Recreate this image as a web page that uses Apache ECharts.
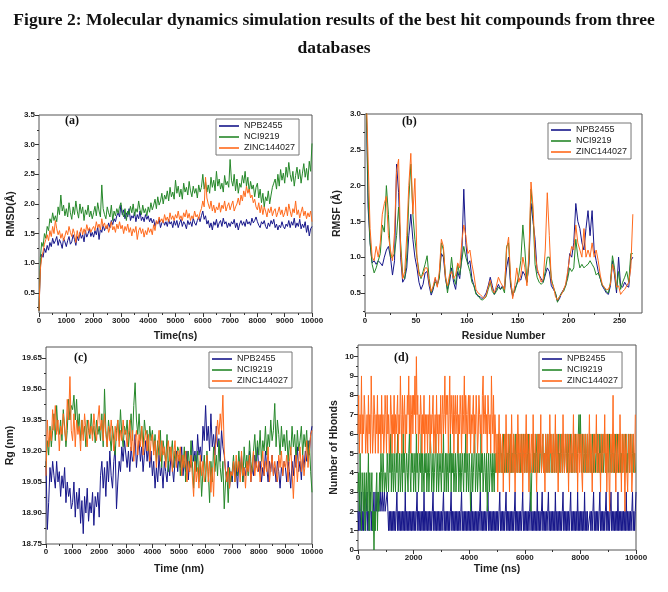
<!DOCTYPE html>
<html><head><meta charset="utf-8">
<script src="https://cdn.jsdelivr.net/npm/echarts@6/dist/echarts.min.js"></script>
<style>html,body{margin:0;padding:0;background:#fff}#c{width:668px;height:592px}</style>
</head><body><div id="c"></div>
<script>
const seriesNames = ['NPB2455', 'NCI9219', 'ZINC144027'];
const seriesColors = ['#16168a', '#26882a', '#ff6a1c'];

// (a) RMSD, sampled every 50 ns from 0 to 10000
const rmsdStep = 50;
const rmsdNPB = [
0.20,0.95,1.15,1.10,1.25,1.18,1.30,1.22,1.35,1.28,1.42,1.33,1.38,1.45,1.30,1.40,1.34,1.25,1.42,1.36,
1.28,1.38,1.45,1.32,1.36,1.48,1.40,1.30,1.45,1.38,1.52,1.42,1.48,1.36,1.55,1.44,1.50,1.58,1.45,1.52,
1.44,1.55,1.48,1.62,1.40,1.58,1.52,1.65,1.55,1.62,1.58,1.68,1.60,1.72,1.65,1.75,1.70,1.80,1.85,1.78,
1.98,1.82,1.90,1.75,1.85,1.78,1.92,1.72,1.80,1.76,1.86,1.70,1.82,1.75,1.88,1.72,1.78,1.70,1.82,1.74,
1.80,1.70,1.76,1.68,1.74,1.62,1.70,1.66,1.75,1.60,1.68,1.72,1.64,1.70,1.62,1.74,1.66,1.70,1.60,1.72,
1.64,1.72,1.60,1.68,1.74,1.62,1.70,1.66,1.58,1.72,1.65,1.70,1.62,1.76,1.68,1.64,1.72,1.78,1.70,1.80,
1.88,1.74,1.80,1.66,1.72,1.60,1.68,1.56,1.70,1.64,1.74,1.60,1.68,1.72,1.62,1.76,1.66,1.70,1.60,1.68,
1.62,1.70,1.66,1.74,1.60,1.68,1.56,1.66,1.72,1.64,1.70,1.62,1.74,1.66,1.70,1.64,1.76,1.68,1.72,1.78,
1.70,1.64,1.60,1.70,1.66,1.72,1.62,1.58,1.68,1.62,1.72,1.66,1.74,1.60,1.66,1.56,1.64,1.60,1.70,1.62,
1.58,1.66,1.62,1.72,1.60,1.70,1.64,1.76,1.60,1.68,1.62,1.74,1.58,1.66,1.60,1.70,1.52,1.64,1.46,1.58,
1.62];
const rmsdNCI = [
0.20,1.10,1.35,1.28,1.50,1.42,1.62,1.55,1.75,1.68,1.85,1.72,1.80,1.70,1.95,1.82,2.15,1.88,1.98,1.80,
1.92,1.78,2.02,1.85,1.74,1.95,1.82,2.05,1.88,1.76,2.00,1.84,1.95,1.72,1.90,1.82,1.98,1.78,1.88,1.75,
1.85,1.96,1.80,2.02,1.88,1.78,2.32,1.92,1.82,1.75,1.95,1.85,1.78,1.98,1.72,1.88,1.80,1.92,1.84,1.95,
2.02,1.85,1.78,1.92,1.72,1.88,1.82,1.96,1.85,2.00,1.80,1.92,1.86,2.05,1.90,1.82,1.98,1.85,1.92,1.80,
1.95,1.86,2.02,1.90,1.98,2.08,1.92,2.12,1.98,2.05,2.18,2.00,2.15,2.08,2.22,2.05,2.28,2.12,2.20,2.08,
2.40,2.18,2.30,2.12,2.25,2.08,2.35,2.20,2.28,2.15,2.38,2.22,2.12,2.30,2.18,2.26,2.10,2.32,2.20,2.28,
2.50,2.25,2.38,2.20,2.32,2.18,2.45,2.28,2.40,2.22,2.55,2.30,2.42,2.25,2.35,2.20,2.48,2.32,2.38,2.28,
2.75,2.40,2.30,2.50,2.22,2.42,2.18,2.35,2.28,2.48,2.35,2.55,2.30,2.45,2.20,2.38,2.25,2.32,2.12,2.28,
2.35,2.10,2.25,2.02,2.18,1.95,2.12,2.05,2.22,2.00,2.15,2.28,2.35,2.42,2.25,2.50,2.30,2.58,2.40,2.52,
2.35,2.62,2.45,2.70,2.50,2.38,2.55,2.30,2.48,2.62,2.42,2.58,2.35,2.52,2.68,2.45,2.60,2.40,2.72,2.55,
3.02];
const rmsdZINC = [
0.20,0.90,1.10,1.20,1.32,1.40,1.48,1.38,1.55,1.45,1.62,1.50,1.72,1.58,1.48,1.55,1.42,1.50,1.38,1.46,
1.55,1.48,1.62,1.52,1.45,1.58,1.50,1.35,1.55,1.42,1.52,1.60,1.48,1.58,1.50,1.65,1.55,1.60,1.52,1.58,
1.62,1.55,1.70,1.60,1.66,1.56,1.75,1.62,1.68,1.58,1.65,1.52,1.60,1.70,1.56,1.62,1.52,1.66,1.58,1.70,
1.58,1.64,1.50,1.62,1.55,1.66,1.52,1.60,1.46,1.58,1.52,1.62,1.40,1.55,1.60,1.50,1.58,1.44,1.55,1.48,
1.60,1.52,1.58,1.48,1.65,1.55,1.72,1.66,1.78,1.70,1.75,1.68,1.82,1.72,1.78,1.70,1.85,1.74,1.80,1.72,
1.82,1.76,1.88,1.74,1.80,1.72,1.85,1.78,1.90,1.76,1.84,1.72,1.80,1.75,1.88,1.78,1.82,1.74,1.86,1.92,
2.05,1.95,2.45,2.10,2.00,1.92,2.05,1.88,1.98,1.85,1.95,1.90,2.02,1.86,1.98,1.92,2.05,1.88,1.96,2.02,
1.90,1.98,2.05,1.88,1.95,2.00,2.10,1.98,2.15,2.05,2.22,2.12,2.30,2.18,2.25,2.10,2.15,2.02,2.08,1.95,
1.90,2.02,1.85,1.98,1.82,1.95,1.88,1.78,1.92,1.85,1.95,1.80,1.88,1.92,1.78,1.86,1.95,1.82,1.90,1.78,
1.85,1.95,1.80,2.00,1.88,1.78,1.92,1.85,2.05,1.82,1.90,1.76,1.86,1.95,1.80,1.88,1.75,1.85,1.78,1.88,
1.70];

// (b) RMSF, residues 1,3,5,...,263
const rmsfFirstResidue = 1, rmsfResidueStep = 2;
const rmsfNPB = [3.4,1.7,1.2,0.92,0.95,0.9,0.95,0.92,0.88,1.0,
1.1,1.15,1.0,0.75,0.95,2.3,1.9,1.0,0.65,0.7,
0.85,1.3,1.6,1.25,1.0,0.85,0.65,0.55,0.62,0.78,
0.8,0.6,0.47,0.55,0.7,0.6,0.75,1.05,1.0,0.7,
0.55,0.65,0.85,0.65,0.55,0.8,0.7,1.0,1.95,1.2,
0.9,0.95,0.7,0.6,0.5,0.45,0.45,0.42,0.45,0.5,
0.6,0.72,0.6,0.48,0.55,0.62,0.55,0.6,0.55,0.85,
1.0,0.6,0.45,0.55,0.62,0.7,0.68,0.8,0.75,0.65,
0.9,1.75,1.5,1.25,0.8,0.75,0.7,0.65,0.75,0.85,
0.8,0.6,0.55,0.5,0.38,0.42,0.5,0.55,0.6,0.75,
1.05,1.0,1.2,1.75,1.5,1.4,1.2,1.1,1.4,1.65,
1.3,1.65,1.1,0.95,0.8,0.7,0.6,0.55,0.5,0.48,
0.6,0.95,0.75,0.5,1.0,0.6,0.58,0.65,0.6,0.58,
0.95,1.0];
const rmsfNCI = [3.4,1.9,1.2,0.9,0.78,0.85,0.95,1.05,1.45,1.35,
2.0,1.6,1.0,1.0,1.05,1.3,1.7,1.2,0.75,0.7,
1.0,1.8,2.3,1.6,1.25,1.0,0.8,0.7,0.8,0.9,
1.02,0.7,0.5,0.58,0.65,0.62,0.7,1.2,1.1,0.75,
0.5,0.7,1.0,0.72,0.62,0.9,0.75,0.95,1.15,1.0,
0.9,0.8,0.65,0.6,0.48,0.47,0.42,0.4,0.42,0.45,
0.55,0.65,0.52,0.48,0.52,0.58,0.55,0.58,0.5,1.15,
1.2,0.65,0.48,0.52,0.62,0.75,0.95,1.45,1.1,0.65,
0.95,1.95,1.6,0.9,0.72,0.65,0.62,0.65,0.8,1.0,
1.0,0.7,0.58,0.5,0.37,0.45,0.5,0.52,0.6,0.7,
0.85,0.8,0.85,1.25,1.0,0.85,0.9,0.85,0.88,0.9,
0.95,0.9,0.85,0.75,0.78,0.7,0.6,0.58,0.52,0.5,
0.65,1.02,0.85,0.55,0.8,0.55,0.65,0.72,0.8,0.65,
1.05,1.05];
const rmsfZINC = [3.4,2.4,1.4,1.0,0.95,1.15,1.0,1.2,1.6,1.75,
1.85,1.3,1.1,0.95,1.35,2.2,2.37,1.1,0.7,0.8,
1.3,2.0,2.45,1.6,2.1,1.0,0.75,0.72,0.75,0.85,
0.85,0.65,0.52,0.6,0.72,0.58,0.8,1.25,1.15,0.72,
0.6,0.75,0.8,0.7,0.75,0.92,0.85,1.2,1.45,1.3,
1.05,1.1,0.9,0.75,0.55,0.5,0.48,0.45,0.42,0.47,
0.58,0.68,0.55,0.5,0.6,0.72,0.65,0.6,0.55,1.1,
1.28,0.7,0.42,0.6,0.85,0.65,0.75,1.0,0.85,0.6,
1.05,2.05,1.7,1.05,0.85,0.75,0.65,0.7,1.1,1.9,
1.3,0.65,0.6,0.45,0.4,0.45,0.48,0.55,0.62,0.8,
1.0,1.15,1.1,1.45,1.2,1.1,1.0,1.4,1.0,1.1,
1.0,1.2,1.0,1.1,0.95,0.75,0.62,0.58,0.55,0.55,
0.62,0.9,0.8,0.58,0.6,0.48,0.52,0.55,0.6,0.65,
0.85,1.6];

// (c) Rg, every 50 from 0 to 10000
const rgStep = 50;
const rgNPB = [
19.15,18.82,18.95,19.12,19.05,19.15,19.08,19.02,19.15,19.05,19.10,18.98,19.08,19.02,19.12,18.95,19.05,18.98,19.02,18.92,
18.95,19.05,18.88,19.00,18.92,19.02,18.85,18.96,18.80,18.98,18.90,19.02,18.86,18.95,18.90,19.00,18.84,18.98,18.93,19.00,
18.88,19.08,19.15,19.02,19.12,18.98,19.15,19.05,19.20,19.08,19.02,19.15,19.22,18.92,19.05,19.15,19.10,19.22,19.15,19.25,
19.25,19.12,19.20,19.10,19.22,19.15,19.18,19.28,19.12,19.20,19.25,19.15,19.22,19.10,19.18,19.25,19.15,19.22,19.12,19.20,
19.08,19.15,19.02,19.12,19.05,19.18,19.08,19.12,19.02,19.15,19.10,19.05,19.15,19.08,19.18,19.12,19.05,19.15,19.20,19.10,
19.18,19.12,19.22,19.08,19.15,19.10,19.20,19.06,19.15,19.12,19.25,19.15,19.20,19.12,19.28,19.18,19.22,19.15,19.32,19.25,
19.42,19.25,19.32,19.20,19.38,19.22,19.28,19.18,19.32,19.22,19.26,19.15,19.30,19.22,19.18,19.10,19.05,19.15,19.02,19.10,
19.05,19.15,19.08,19.12,19.02,19.15,19.10,19.18,19.05,19.12,19.08,19.15,19.10,19.20,19.05,19.12,19.08,19.18,19.12,19.22,
19.10,19.15,19.05,19.12,19.08,19.20,19.12,19.05,19.15,19.10,19.18,19.08,19.12,19.05,19.15,19.10,19.02,19.12,19.08,19.15,
19.12,19.05,19.15,19.10,19.02,19.15,19.08,19.18,19.12,19.22,19.10,19.15,19.06,19.18,19.12,19.20,19.15,19.25,19.18,19.28,
19.32];
const rgNCI = [
19.12,19.25,19.18,19.32,19.22,19.30,19.38,19.25,19.42,19.30,19.28,19.35,19.25,19.40,19.32,19.22,19.30,19.45,19.35,19.42,
19.40,19.47,19.35,19.45,19.30,19.38,19.25,19.35,19.28,19.32,19.22,19.35,19.30,19.26,19.38,19.28,19.32,19.24,19.35,19.28,
19.32,19.25,19.38,19.22,19.50,19.30,19.22,19.35,19.28,19.20,19.32,19.25,19.18,19.30,19.35,19.25,19.40,19.28,19.22,19.32,
19.28,19.35,19.22,19.30,19.38,19.25,19.42,19.53,19.35,19.28,19.38,19.25,19.32,19.22,19.35,19.28,19.30,19.20,19.32,19.25,
19.30,19.20,19.28,19.15,19.25,19.18,19.30,19.12,19.25,19.20,19.15,19.28,19.10,19.22,19.18,19.25,19.12,19.20,19.15,19.22,
19.20,19.08,19.18,19.12,19.22,19.05,19.15,19.20,19.10,19.25,19.15,19.02,19.18,19.10,19.20,19.05,19.15,18.98,19.10,19.18,
19.05,19.20,19.10,18.95,19.15,19.05,19.22,19.10,19.18,19.08,19.25,19.12,19.05,19.15,18.92,19.05,19.10,18.95,19.12,19.05,
19.10,19.18,19.05,19.15,19.08,19.20,19.10,19.15,19.05,19.22,19.12,19.18,19.08,19.25,19.15,19.10,19.20,19.28,19.15,19.25,
19.18,19.30,19.15,19.25,19.20,19.32,19.18,19.28,19.22,19.35,19.25,19.30,19.43,19.22,19.35,19.28,19.18,19.32,19.22,19.28,
19.20,19.30,19.15,19.25,19.18,19.32,19.22,19.28,19.15,19.30,19.20,19.25,19.32,19.18,19.28,19.22,19.30,19.15,19.25,19.10,
19.00];
const rgZINC = [
19.08,19.35,19.22,19.30,19.25,19.40,19.30,19.42,19.28,19.35,19.20,19.32,19.28,19.38,19.30,19.25,19.45,19.35,19.56,19.30,
19.25,19.38,19.22,19.35,19.28,19.32,19.20,19.35,19.25,19.38,19.30,19.22,19.35,19.28,19.32,19.25,19.38,19.30,19.25,19.35,
19.42,19.30,19.35,19.25,19.38,19.28,19.22,19.32,19.25,19.35,19.28,19.20,19.32,19.25,19.35,19.22,19.30,19.25,19.35,19.28,
19.30,19.22,19.28,19.35,19.20,19.30,19.15,19.25,19.30,19.18,19.28,19.22,19.32,19.18,19.25,19.30,19.20,19.28,19.15,19.25,
19.28,19.18,19.25,19.12,19.22,19.30,19.15,19.25,19.18,19.22,19.12,19.20,19.25,19.15,19.22,19.10,19.18,19.25,19.12,19.20,
19.15,19.22,19.08,19.18,19.12,19.20,19.05,19.15,19.10,19.18,19.08,18.98,19.15,19.05,19.12,19.02,19.18,19.08,19.15,19.05,
19.10,19.18,19.05,19.15,19.00,19.12,18.98,19.20,19.25,19.35,19.28,19.38,19.30,19.47,19.20,19.10,19.05,19.12,19.02,19.10,
19.08,19.15,19.05,19.18,19.10,19.15,19.05,19.20,19.08,19.12,19.02,19.15,19.10,19.18,19.05,19.12,19.20,19.08,19.15,19.10,
19.15,19.05,19.12,19.20,19.08,19.15,19.10,19.22,19.05,19.12,19.18,19.08,19.15,19.10,19.05,19.18,19.12,19.20,19.08,19.15,
19.12,19.18,19.05,19.15,19.22,19.10,18.97,19.12,19.18,19.05,19.15,19.22,19.10,19.18,19.08,19.15,19.25,19.12,19.20,19.28,
19.30];

// (d) H-bonds, every 25 ns from 0 to 10000
const hbStep = 25;
const hbNPB = [
2,1,3,1,2,3,1,2,1,3,2,1,2,3,1,2,1,2,3,1,
2,1,2,3,1,2,3,2,2,3,2,2,3,2,2,3,2,2,3,2,
2,2,3,2,1,2,1,2,1,2,1,2,1,2,1,2,3,1,2,1,
2,1,2,1,2,1,2,1,3,1,2,1,2,1,2,1,2,1,2,1,
2,1,2,1,2,3,1,2,1,2,1,2,1,2,1,3,1,2,1,2,
1,2,1,2,1,2,1,2,3,1,2,1,2,1,2,1,2,1,2,1,
2,1,2,3,1,2,1,2,1,2,1,2,1,2,3,1,2,1,2,1,
2,1,2,1,2,1,2,1,2,3,1,2,1,2,1,2,1,2,1,2,
1,2,1,3,1,2,1,2,1,2,1,2,1,2,1,2,3,1,2,1,
2,1,2,1,2,1,2,3,1,2,1,2,1,2,1,2,1,2,1,2,
1,2,1,2,3,1,2,1,2,1,2,1,2,3,1,2,1,2,1,2,
1,2,1,2,1,2,3,1,2,1,2,1,2,1,2,1,2,3,1,2,
1,2,1,2,1,2,1,2,3,1,2,1,2,1,2,1,2,1,3,1,
2,1,2,1,2,3,1,2,1,2,1,2,1,2,3,1,2,1,2,1,
2,1,2,1,3,1,2,1,2,1,2,1,2,1,2,3,1,2,1,2,
1,2,1,2,1,2,3,1,2,1,2,1,2,1,2,1,3,1,2,1,
2,1,2,1,2,1,3,1,2,1,2,1,1,1,2,1,2,1,2,3,
1,2,1,2,1,2,1,2,3,1,2,1,2,1,2,1,2,3,1,2,
1,2,1,2,3,1,2,1,2,1,2,1,2,1,3,1,2,1,2,1,
2,1,2,1,2,1,3,1,2,1,2,1,2,1,2,3,1,2,1,2,
3];
const hbNCI = [
3,4,2,5,3,1,4,3,2,4,1,3,4,2,3,5,1,4,2,3,
4,1,2,0,2,1,3,4,1,3,2,4,3,5,4,3,5,4,3,4,
4,3,5,4,3,5,4,6,3,5,4,3,5,4,3,5,4,6,3,4,
5,3,4,5,3,6,4,5,3,4,5,4,3,5,6,4,3,5,4,5,
3,4,5,3,6,4,5,3,4,5,4,6,3,5,4,3,5,4,5,3,
4,5,3,4,6,5,3,4,5,3,4,5,6,3,4,5,3,4,5,4,
3,5,4,6,3,4,5,3,5,4,3,5,4,6,3,5,4,5,3,4,
5,3,4,5,6,3,4,5,3,4,5,4,3,5,4,6,3,5,4,3,
5,4,2,4,5,3,4,5,6,3,4,5,3,4,5,4,3,6,4,5,
3,4,5,4,3,5,2,4,5,3,4,5,4,3,5,4,3,5,4,5,
5,4,6,4,5,6,4,5,4,6,5,4,5,6,4,5,4,6,5,4,
6,4,5,4,6,5,4,6,5,4,5,6,4,5,4,6,5,4,6,5,
4,6,5,4,5,6,4,5,3,2,4,5,6,4,5,4,6,5,4,6,
5,4,6,5,4,5,6,4,5,4,6,5,4,6,5,4,5,6,4,5,
4,6,5,4,6,5,4,5,6,4,5,4,6,5,4,6,5,4,5,6,
5,4,6,5,4,5,6,4,5,4,6,5,4,6,5,4,5,6,7,5,
7,5,4,6,5,4,5,6,4,5,6,4,5,6,4,5,4,6,5,4,
6,5,4,5,6,4,5,4,6,5,4,6,5,4,5,6,4,5,4,6,
5,4,6,5,4,5,6,4,5,4,6,5,4,6,5,4,5,6,4,5,
4,6,5,4,5,6,4,5,4,6,5,4,6,5,4,5,6,4,5,4,
4];
const hbZINC = [
6,8,5,7,6,9,5,7,6,8,7,5,6,7,5,8,6,7,5,9,
7,5,6,8,7,5,7,6,8,5,7,6,7,5,8,6,7,5,6,8,
7,5,8,6,7,5,6,8,7,5,7,6,8,5,7,6,7,8,5,7,
6,9,7,5,8,6,7,8,5,7,6,8,7,9,6,8,5,7,8,6,
8,7,9,6,10,7,8,5,7,6,8,7,5,7,6,8,5,7,6,7,
5,7,6,8,5,7,6,7,8,5,6,7,5,8,6,7,5,7,6,8,
5,7,8,6,7,9,6,8,7,8,5,7,9,6,8,7,6,8,5,7,
8,6,7,8,5,7,6,8,7,5,8,6,7,9,6,8,7,5,7,8,
6,8,5,7,6,7,8,5,7,6,8,7,5,6,8,7,6,7,5,8,
9,6,7,8,6,7,5,8,7,6,7,5,9,7,6,8,5,7,6,4,
6,3,5,7,4,6,5,4,6,3,5,6,4,7,5,4,6,5,3,6,
4,7,5,4,6,5,3,5,6,4,7,5,4,6,5,4,6,3,5,6,
4,5,7,4,6,5,3,6,4,5,6,4,7,5,4,6,5,3,5,6,
4,6,5,7,4,5,6,4,5,3,6,5,4,6,5,4,7,5,6,4,
5,6,4,5,7,4,6,5,3,5,6,4,5,6,4,7,5,4,6,5,
4,6,5,3,6,4,5,6,4,5,7,4,6,5,4,6,3,5,6,4,
5,6,4,3,6,5,4,6,5,4,6,4,5,7,4,6,5,3,5,6,
4,6,5,7,4,5,6,4,5,3,6,5,4,6,5,7,4,6,3,5,
6,4,2,5,6,4,5,8,4,6,5,3,6,4,5,6,4,7,5,3,
6,4,5,6,2,5,6,4,3,5,6,4,5,6,3,4,6,5,4,7,
7];

// tick labels
const rmsdTimeTicks = [0,1000,2000,3000,4000,5000,6000,7000,8000,9000,10000];
const rmsdValueTicks = [0.5,1.0,1.5,2.0,2.5,3.0,3.5];
const residueTicks = [0,50,100,150,200,250];
const rmsfValueTicks = [0.5,1.0,1.5,2.0,2.5,3.0];
const rgTimeTicks = [0,1000,2000,3000,4000,5000,6000,7000,8000,9000,10000];
const rgValueTicks = [18.75,18.90,19.05,19.20,19.35,19.50,19.65];
const hbTimeTicks = [0,2000,4000,6000,8000,10000];
const hbValueTicks = [0,1,2,3,4,5,6,7,8,9,10];

function minorOf(ticks, lo, hi) {
  const out = [];
  const d = (ticks[1] - ticks[0]) / 2;
  for (let v = ticks[0] - d; v <= hi + 1e-9; v += d) {
    if (v >= lo - 1e-9) out.push(+v.toFixed(6));
  }
  return out;
}

const FONT = 'Liberation Sans';
const grids = [], xAxes = [], yAxes = [], series = [], legends = [], titles = [];

titles.push({text: 'Figure 2: Molecular dynamics simulation results of the best hit compounds from three', left: 'center', top: 6,
  textStyle: {fontFamily: 'Liberation Serif', fontWeight: 'bold', fontSize: 17.5, color: '#111'}});
titles.push({text: 'databases', left: 'center', top: 34,
  textStyle: {fontFamily: 'Liberation Serif', fontWeight: 'bold', fontSize: 17.5, color: '#111'}});

function addPanel(p) {
  const gi = grids.length;
  grids.push({left: p.rect[0], top: p.rect[1], width: p.rect[2], height: p.rect[3], show: true,
    borderColor: '#555', borderWidth: 1, backgroundColor: 'transparent', containLabel: false, outerBoundsMode: 'none'});
  const tickStyle = {color: '#333', width: 1};
  const lblStyle = {fontSize: 8, fontWeight: 'bold', color: '#222', fontFamily: FONT};
  const nameStyle = {fontSize: 10.5, fontWeight: 'bold', color: '#222', fontFamily: FONT};
  const xi = xAxes.length, yi = yAxes.length;
  xAxes.push({type: 'value', gridIndex: gi, min: p.x.min, max: p.x.max, position: 'bottom',
    name: p.x.name, nameLocation: 'middle', nameGap: p.x.gap, nameTextStyle: nameStyle,
    axisLine: {show: false, onZero: false}, splitLine: {show: false},
    axisTick: {show: true, inside: false, length: 4, customValues: p.x.ticks, lineStyle: tickStyle},
    axisLabel: {show: true, customValues: p.x.ticks, margin: 4, formatter: p.x.fmt, ...lblStyle}});
  xAxes.push({type: 'value', gridIndex: gi, min: p.x.min, max: p.x.max, position: 'bottom',
    axisLine: {show: false, onZero: false}, splitLine: {show: false},
    axisTick: {show: true, inside: false, length: 2, customValues: minorOf(p.x.ticks, p.x.min, p.x.max), lineStyle: tickStyle},
    axisLabel: {show: false}});
  yAxes.push({type: 'value', gridIndex: gi, min: p.y.min, max: p.y.max, position: 'left',
    name: p.y.name, nameLocation: 'middle', nameGap: p.y.gap, nameTextStyle: nameStyle,
    axisLine: {show: false, onZero: false}, splitLine: {show: false},
    axisTick: {show: true, inside: false, length: 4, customValues: p.y.ticks, lineStyle: tickStyle},
    axisLabel: {show: true, customValues: p.y.ticks, margin: 4, formatter: p.y.fmt, ...lblStyle}});
  yAxes.push({type: 'value', gridIndex: gi, min: p.y.min, max: p.y.max, position: 'left',
    axisLine: {show: false, onZero: false}, splitLine: {show: false},
    axisTick: {show: true, inside: false, length: 2, customValues: minorOf(p.y.ticks, p.y.min, p.y.max), lineStyle: tickStyle},
    axisLabel: {show: false}});
  p.data.forEach((arr, k) => {
    series.push({type: 'line', name: seriesNames[k], xAxisIndex: xi, yAxisIndex: yi,
      data: arr.map((v, i) => [p.xOf(i), v]), symbol: 'none', showSymbol: false, step: p.step || false,
      lineStyle: {width: 1, color: seriesColors[k]}, itemStyle: {color: seriesColors[k]},
      animation: false, clip: true, silent: true});
  });
  legends.push({data: seriesNames, orient: 'vertical', left: p.legend[0], top: p.legend[1],
    icon: 'rect', itemWidth: 20, itemHeight: 1.6, itemGap: 1, padding: [2, 4, 2, 3], borderColor: '#777', borderWidth: 1,
    selectedMode: false, textStyle: {fontSize: 9, fontFamily: FONT, color: '#222', lineHeight: 10}});
  titles.push({text: p.label, left: p.labelPos[0], top: p.labelPos[1],
    textStyle: {fontFamily: 'Liberation Serif', fontWeight: 'bold', fontSize: 12, color: '#111'}});
}

addPanel({rect: [39, 115, 273, 198], label: '(a)', labelPos: [60, 110], legend: [216, 119],
  x: {min: 0, max: 10000, ticks: rmsdTimeTicks, name: 'Time(ns)', gap: 18, fmt: v => String(v)},
  y: {min: 0.16, max: 3.5, ticks: rmsdValueTicks, name: 'RMSD(Å)', gap: 22, fmt: v => v.toFixed(1)},
  data: [rmsdNPB, rmsdNCI, rmsdZINC], xOf: i => i * rmsdStep});
addPanel({rect: [365, 114, 277, 199], label: '(b)', labelPos: [397, 111], legend: [548, 123],
  x: {min: 0, max: 272, ticks: residueTicks, name: 'Residue Number', gap: 18, fmt: v => String(v)},
  y: {min: 0.22, max: 3.0, ticks: rmsfValueTicks, name: 'RMSF (Å)', gap: 22, fmt: v => v.toFixed(1)},
  data: [rmsfNPB, rmsfNCI, rmsfZINC], xOf: i => rmsfFirstResidue + i * rmsfResidueStep});
addPanel({rect: [46, 347, 266, 197], label: '(c)', labelPos: [69, 347], legend: [209, 352],
  x: {min: 0, max: 10000, ticks: rgTimeTicks, name: 'Time (nm)', gap: 20, fmt: v => String(v)},
  y: {min: 18.75, max: 19.703, ticks: rgValueTicks, name: 'Rg (nm)', gap: 30, fmt: v => v.toFixed(2)},
  data: [rgNPB, rgNCI, rgZINC], xOf: i => i * rgStep});
addPanel({rect: [358, 345, 278, 205], label: '(d)', labelPos: [389, 347], legend: [539, 352],
  x: {min: 0, max: 10000, ticks: hbTimeTicks, name: 'Time (ns)', gap: 14, fmt: v => String(v)},
  y: {min: 0, max: 10.6, ticks: hbValueTicks, name: 'Number of Hbonds', gap: 18, fmt: v => String(v)},
  data: [hbNPB, hbNCI, hbZINC], xOf: i => i * hbStep, step: 'end'});

const chart = echarts.init(document.getElementById('c'), null, {renderer: 'canvas'});
chart.setOption({
  backgroundColor: '#fff', animation: false,
  title: titles, grid: grids, xAxis: xAxes, yAxis: yAxes, series: series, legend: legends,
  tooltip: {show: false}
});
</script></body></html>
